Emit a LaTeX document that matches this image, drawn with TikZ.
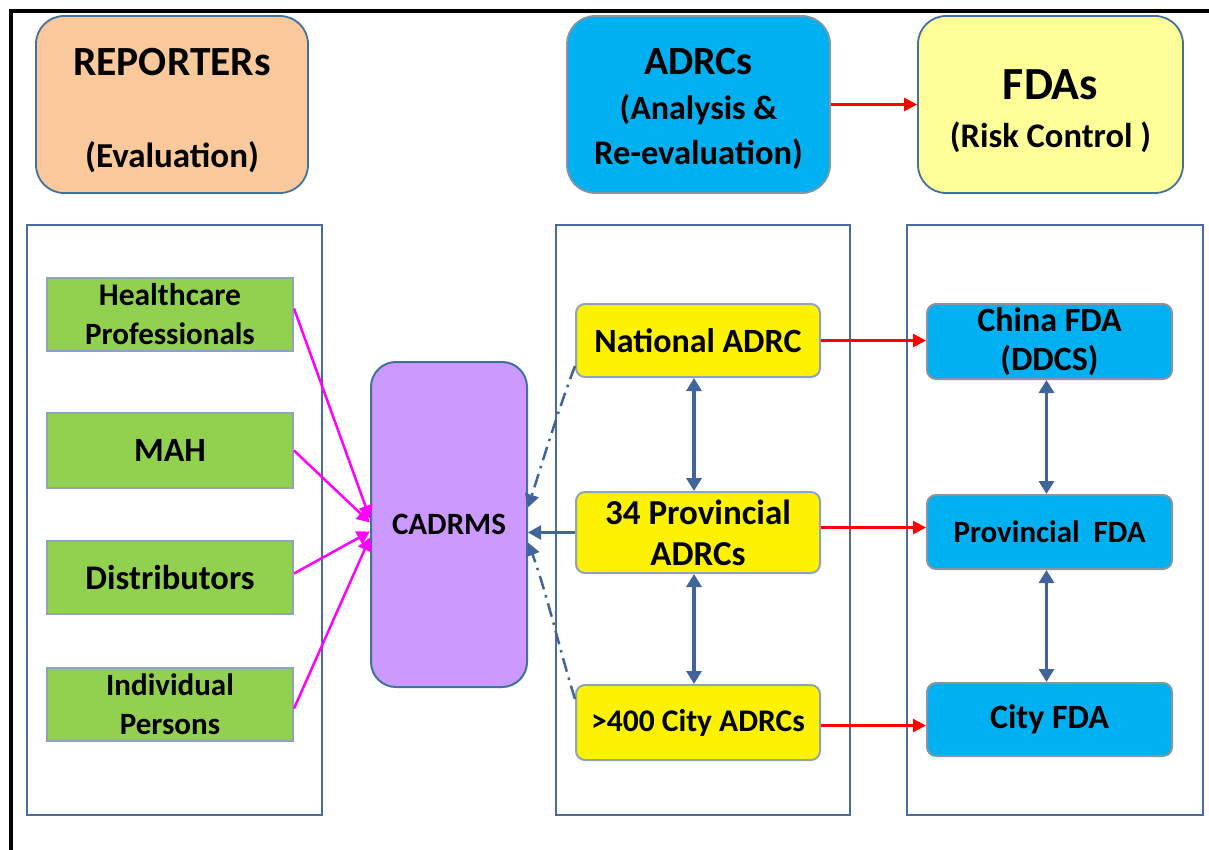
\documentclass[tikz,border=0pt]{standalone}
\usepackage{fontspec}
\setmainfont{Carlito}
\usetikzlibrary{arrows.meta}
\definecolor{orangefill}{HTML}{F9C89B}
\definecolor{paleyellow}{HTML}{FFFF99}
\definecolor{skyblue}{HTML}{00B0F0}
\definecolor{leafgreen}{HTML}{92D050}
\definecolor{lilac}{HTML}{CC99FF}
\definecolor{hotmagenta}{HTML}{FF00FF}
\definecolor{hdrborder}{HTML}{41719C}
\definecolor{panelborder}{HTML}{4A6BA0}
\definecolor{boxborder}{HTML}{8FA3BD}
\definecolor{grayborder}{HTML}{8A949E}
\definecolor{linkblue}{HTML}{41659A}
\tikzset{
  hdr/.style={draw=hdrborder, line width=1.8pt, rounded corners=28pt, minimum width=#1, minimum height=177pt, inner sep=0pt},
  hdrtext/.style={anchor=base, inner sep=0pt, font=\bfseries\fontsize{#1}{#1}\selectfont},
  panel/.style={draw=panelborder, line width=2.8pt, inner sep=0pt},
  greenbox/.style={draw=boxborder, fill=leafgreen, line width=2pt, minimum width=246pt, align=center, inner sep=0pt, font=\bfseries\fontsize{31}{39}\selectfont},
  yellowbox/.style={draw=boxborder, fill=yellow, line width=2pt, rounded corners=9pt, minimum width=244pt, align=center, inner sep=0pt, font=\bfseries\fontsize{34}{40}\selectfont},
  bluebox/.style={draw=grayborder, fill=skyblue, line width=2pt, rounded corners=9pt, minimum width=245pt, align=center, inner sep=0pt, font=\bfseries\fontsize{34}{40}\selectfont},
  magarrow/.style={draw=hotmagenta, line width=2.5pt, -{Triangle[length=13pt,width=14pt]}},
  redarrow/.style={draw=red, line width=2.5pt, -{Triangle[length=13pt,width=13pt]}},
  duplex/.style={draw=linkblue, line width=3.2pt, {Triangle[length=13pt,width=15pt]}-{Triangle[length=13pt,width=15pt]}},
  feed/.style={draw=linkblue, line width=2.5pt, -{Triangle[length=13pt,width=14pt]}},
  dashdotline/.style={feed, dash pattern=on 14pt off 6pt on 2.5pt off 6pt}
}
\begin{document}
\begin{tikzpicture}[x=1pt,y=-1pt]
\useasboundingbox (0,0) rectangle (1209,850);
% outer frame (top and left edges)
\draw[line width=4pt, black] (1209,11) -- (11,11) -- (11,850);

% headers
\node[hdr=272pt, fill=orangefill] (rep) at (172,104.5) {};
\node[hdrtext=41.5] (reptitle) at ([yshift=28.5pt]rep.center) {REPORTERs};
\node[hdrtext=35] (repsub) at ([yshift=-63.5pt]rep.center) {(Evaluation)};

\node[hdr=263pt, fill=skyblue, draw=grayborder] (adrc) at (698.5,104.5) {};
\node[hdrtext=40] (adrctitle) at ([yshift=29.5pt]adrc.center) {ADRCs};
\node[hdrtext=34] (adrcsuba) at ([yshift=-15.5pt]adrc.center) {(Analysis \&};
\node[hdrtext=34.5] (adrcsubb) at ([yshift=-60.5pt]adrc.center) {Re-evaluation)};

\node[hdr=265pt, fill=paleyellow] (fda) at (1050.5,104.5) {};
\node[hdrtext=46] (fdatitle) at ([yshift=4.5pt]fda.center) {FDAs};
\node[hdrtext=34.5] (fdasub) at ([yshift=-43.5pt]fda.center) {(Risk Control )};

\draw[redarrow] (adrc.east) -- (fda.west);

% panels
\node[panel, minimum width=295pt, minimum height=590pt] (lp) at (174.5,520) {};
\node[panel, minimum width=294pt, minimum height=590pt] (mp) at (703,520) {};
\node[panel, minimum width=296pt, minimum height=590pt] (rp) at (1055,520) {};

% reporters
\node[greenbox, minimum height=73pt] (hp) at (170,314.5) {\fontsize{31.5}{39}\selectfont Healthcare\\Professionals};
\node[greenbox, minimum height=75pt] (mah) at (170,450.5) {\fontsize{34}{39}\selectfont MAH};
\node[greenbox, minimum height=73pt] (dist) at (170,577.5) {\fontsize{34.5}{39}\selectfont Distributors};
\node[greenbox, minimum height=73pt] (ind) at (170,704.5) {Individual\\Persons};

% CADRMS
\node[draw=hdrborder, fill=lilac, line width=2pt, rounded corners=25pt, minimum width=156pt, minimum height=325pt, inner sep=0pt, font=\bfseries\fontsize{31}{36}\selectfont] (cad) at (449,524.5) {CADRMS};

% ADRCs
\node[yellowbox, minimum height=73pt] (nat) at (698,340.5) {National ADRC};
\node[yellowbox, minimum height=81pt, font=\bfseries\fontsize{35}{41}\selectfont] (prov) at (698,532.5) {34 Provincial\\ADRCs};
\node[yellowbox, minimum height=75pt, font=\bfseries\fontsize{31.5}{40}\selectfont] (city) at (698,722.5) {>400 City ADRCs};

% FDAs
\node[bluebox, minimum height=75pt, font=\bfseries\fontsize{34}{39}\selectfont] (cfda) at (1049.5,341.5) {China FDA\\(DDCS)};
\node[bluebox, minimum height=74pt, font=\bfseries\fontsize{31}{40}\selectfont] (pfda) at (1049.5,532) {Provincial\ \ FDA};
\node[bluebox, minimum height=73pt] (cityf) at (1049.5,719.5) {City FDA};

% reporters to CADRMS
\draw[magarrow] ([yshift=6pt]hp.east) -- ([yshift=6pt]cad.west);
\draw[magarrow] (mah.east) -- ([yshift=2pt]cad.west);
\draw[magarrow] ([yshift=4pt]dist.east) -- ([yshift=-7pt]cad.west);
\draw[magarrow] ([yshift=-4pt]ind.east) -- ([yshift=-13pt]cad.west);

% ADRCs to CADRMS
\draw[feed] (prov.west) -- (prov.west -| cad.east);
\draw[dashdotline] ([yshift=12pt]nat.south west) .. controls (560,405) and (543,460) .. ([yshift=17pt]cad.east);
\draw[dashdotline] ([yshift=-15pt]city.north west) .. controls (561,655) and (546,590) .. ([yshift=-18pt]cad.east);

% ADRC hierarchy
\draw[duplex] ([xshift=-4pt]nat.south) -- ([xshift=-4pt]prov.north);
\draw[duplex] ([xshift=-4pt]prov.south) -- ([xshift=-4pt]city.north);

% ADRCs to FDAs
\draw[redarrow] (nat.east) -- (nat.east -| cfda.west);
\draw[redarrow] ([yshift=5pt]prov.east) -- ([yshift=5pt]prov.east -| pfda.west);
\draw[redarrow] ([yshift=-3pt]city.east) -- ([yshift=-3pt]city.east -| cityf.west);

% FDA hierarchy
\draw[duplex] ([xshift=-3pt]cfda.south) -- ([xshift=-3pt]pfda.north);
\draw[duplex] ([xshift=-3pt]pfda.south) -- ([xshift=-3pt]cityf.north);
\end{tikzpicture}
\end{document}
